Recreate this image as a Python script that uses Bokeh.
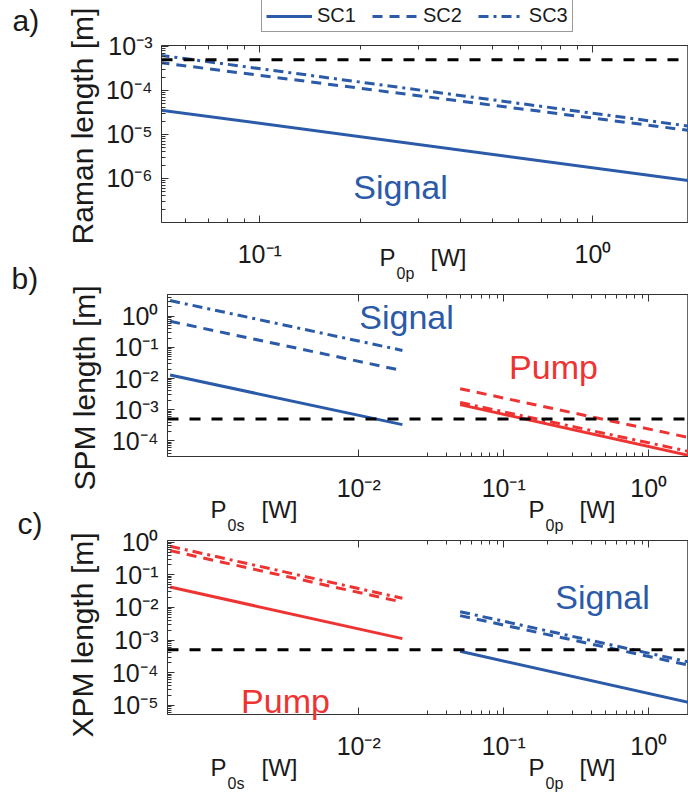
import math
from bokeh.plotting import figure
from bokeh.models import (FixedTicker, CustomJSTickFormatter, LogAxis, Label,
                          Legend, LegendItem, Span, Range1d)
from bokeh.layouts import column
from bokeh.embed import file_html
from bokeh.resources import INLINE

# ------------------------------------------------------------------ data
series_names = ["SC1", "SC2", "SC3"]
pump_power = [0.05, 2.0]        # P0p [W]
signal_power = [5e-4, 0.02]     # P0s [W]
ref_length = 5e-4               # dashed reference length [m]

# a) Raman length (signal) vs P0p
raman_sc1 = [3.6e-5, 8.7e-7]
raman_sc2 = [4.3e-4, 1.2e-5]
raman_sc3 = [6.3e-4, 1.5e-5]

# b) SPM length: signal vs P0s, pump vs P0p
spm_signal_sc1 = [1.3e-2, 3.3e-4]
spm_signal_sc2 = [0.69, 0.018]
spm_signal_sc3 = [3.2, 0.08]
spm_pump_sc1 = [1.45e-3, 3.2e-5]
spm_pump_sc2 = [4.7e-3, 1.2e-4]
spm_pump_sc3 = [1.7e-3, 4.3e-5]

# c) XPM length: pump vs P0s, signal vs P0p
xpm_pump_sc1 = [0.042, 1.1e-3]
xpm_pump_sc2 = [0.55, 0.0145]
xpm_pump_sc3 = [0.75, 0.019]
xpm_signal_sc1 = [4.5e-4, 1.15e-5]
xpm_signal_sc2 = [5.6e-3, 1.6e-4]
xpm_signal_sc3 = [7.4e-3, 2.0e-4]

ticks_a_x = [0.1, 1.0]
ticks_a_y = [1e-6, 1e-5, 1e-4, 1e-3]
ticks_bc_x = [0.01, 0.1, 1.0]
ticks_b_y = [1e-4, 1e-3, 1e-2, 1e-1, 1.0]
ticks_c_y = [1e-5, 1e-4, 1e-3, 1e-2, 1e-1, 1.0]

# ------------------------------------------------------------------ style
BLUE = "#2a5aa8"
RED = "#ee3333"
FONT = "Liberation Sans"
TXT = "#1a1a1a"
DASH = {"SC1": "solid", "SC2": "10 7", "SC3": "10 5 3 5"}

FMT = CustomJSTickFormatter(code=r"""
const e = Math.round(Math.log10(tick));
const m = {"-":"\u207b","0":"\u2070","1":"\u00b9","2":"\u00b2","3":"\u00b3",
           "4":"\u2074","5":"\u2075","6":"\u2076","7":"\u2077","8":"\u2078","9":"\u2079"};
let s = "";
for (const c of String(e)) { s += m[c]; }
return "10" + s;
""")
EMPTY = CustomJSTickFormatter(code='return "";')


def minor_list(lo_exp, hi_exp, lo=None, hi=None):
    out = []
    for e in range(lo_exp, hi_exp + 1):
        for k in range(2, 10):
            v = k * 10.0 ** e
            if (lo is None or v >= lo) and (hi is None or v <= hi):
                out.append(v)
    return out


def style_axis(ax, ticker, labels=True):
    ax.ticker = ticker
    ax.formatter = FMT if labels else EMPTY
    ax.major_label_text_font = FONT
    ax.major_label_text_font_size = "25px" if labels else "1px"
    ax.major_label_text_color = TXT
    ax.major_tick_in = 7
    ax.major_tick_out = 0
    ax.minor_tick_in = 4
    ax.minor_tick_out = 0
    ax.axis_line_color = "#333333"
    ax.major_tick_line_color = "#333333"
    ax.minor_tick_line_color = "#333333"
    if not labels:
        ax.major_label_standoff = 0


def make_fig(geo, canvas_top, height, margin_top):
    xr = Range1d(10 ** geo["xl0"], 10 ** geo["xl1"])
    yr = Range1d(10 ** geo["yl0"], 10 ** geo["yl1"])
    p = figure(width=688, height=height, x_axis_type="log", y_axis_type="log",
               x_range=xr, y_range=yr, output_backend="svg",
               toolbar_location=None, tools="",
               min_border_left=geo["left"], min_border_right=688 - geo["right"],
               min_border_top=geo["top"] - canvas_top,
               min_border_bottom=canvas_top + height - geo["bottom"],
               border_fill_color=None, background_fill_color=None,
               outline_line_color="#666666", margin=(margin_top, 0, 0, 0),
               frame_align=False)
    p.grid.visible = False
    return p


def ref_line(p):
    p.add_layout(Span(location=ref_length, dimension="width", line_color="black",
                      line_width=3, line_dash="11 11"))


# ------------------------------------------------------------------ panel a
geo_a = dict(left=161, right=688, top=45, bottom=222,
             xl0=-1.295, xl1=0.287, yl0=-7.0, yl1=-2.98)
pa = make_fig(geo_a, 0, 300, 0)
style_axis(pa.xaxis[0], FixedTicker(ticks=ticks_a_x, minor_ticks=minor_list(-2, 0, 0.05, 2)))
style_axis(pa.yaxis[0], FixedTicker(ticks=ticks_a_y, minor_ticks=minor_list(-7, -4)))
pa.xaxis[0].major_label_standoff = 17
pa.yaxis[0].major_label_standoff = 9
top_a = LogAxis()
style_axis(top_a, FixedTicker(ticks=ticks_a_x, minor_ticks=minor_list(-2, 0, 0.05, 2)), labels=False)
pa.add_layout(top_a, "above")

ref_line(pa)
raman_series = [raman_sc1, raman_sc2, raman_sc3]
for name, vals in zip(series_names, raman_series):
    pa.line(pump_power, vals, line_color=BLUE, line_width=3, line_dash=DASH[name])

# ------------------------------------------------------------------ panel b
geo_b = dict(left=167, right=688, top=294, bottom=456,
             xl0=-3.319, xl1=0.274, yl0=-4.505, yl1=0.70)
pb = make_fig(geo_b, 260, 280, -40)
bc_minor = minor_list(-2, 0, 0.03, 2)
style_axis(pb.xaxis[0], FixedTicker(ticks=ticks_bc_x, minor_ticks=bc_minor))
style_axis(pb.yaxis[0], FixedTicker(ticks=ticks_b_y, minor_ticks=minor_list(-5, 0)))
pb.xaxis[0].major_label_standoff = 17
pb.yaxis[0].major_label_standoff = 9
top_b = LogAxis()
style_axis(top_b, FixedTicker(ticks=ticks_bc_x, minor_ticks=bc_minor), labels=False)
pb.add_layout(top_b, "above")

ref_line(pb)
for name, vals in zip(series_names, [spm_signal_sc1, spm_signal_sc2, spm_signal_sc3]):
    pb.line(signal_power, vals, line_color=BLUE, line_width=3, line_dash=DASH[name])
for name, vals in zip(series_names, [spm_pump_sc1, spm_pump_sc2, spm_pump_sc3]):
    pb.line(pump_power, vals, line_color=RED, line_width=3, line_dash=DASH[name])

# ------------------------------------------------------------------ panel c
geo_c = dict(left=167, right=688, top=540, bottom=714,
             xl0=-3.319, xl1=0.274, yl0=-5.285, yl1=0.052)
pc = make_fig(geo_c, 495, 297, -45)
style_axis(pc.xaxis[0], FixedTicker(ticks=ticks_bc_x, minor_ticks=bc_minor))
style_axis(pc.yaxis[0], FixedTicker(ticks=ticks_c_y, minor_ticks=minor_list(-6, 0)))
pc.xaxis[0].major_label_standoff = 17
pc.yaxis[0].major_label_standoff = 9
top_c = LogAxis()
style_axis(top_c, FixedTicker(ticks=ticks_bc_x, minor_ticks=bc_minor), labels=False)
pc.add_layout(top_c, "above")

ref_line(pc)
for name, vals in zip(series_names, [xpm_pump_sc1, xpm_pump_sc2, xpm_pump_sc3]):
    pc.line(signal_power, vals, line_color=RED, line_width=3, line_dash=DASH[name])
for name, vals in zip(series_names, [xpm_signal_sc1, xpm_signal_sc2, xpm_signal_sc3]):
    pc.line(pump_power, vals, line_color=BLUE, line_width=3, line_dash=DASH[name])

# ------------------------------------------------------------------ text overlay (page pixel space)
ov = figure(width=688, height=792, x_range=Range1d(0, 688), y_range=Range1d(792, 0),
            output_backend="svg", toolbar_location=None, tools="",
            x_axis_location=None, y_axis_location=None,
            min_border_left=0, min_border_right=0, min_border_top=0, min_border_bottom=0,
            border_fill_color=None, background_fill_color=None, outline_line_color=None,
            margin=(-792, 0, 0, 0), frame_align=False)
ov.grid.visible = False
# legend samples: the Raman series again, on a range where they fall outside the view
ov.extra_x_ranges = {"legend_x": Range1d(10 ** geo_a["xl0"], 10 ** geo_a["xl1"])}
ov.extra_y_ranges = {"legend_y": Range1d(10.0, 20.0)}
leg_r = [ov.line(pump_power, vals, line_color=BLUE, line_width=3, line_dash=DASH[n],
                 x_range_name="legend_x", y_range_name="legend_y")
         for n, vals in zip(series_names, raman_series)]
legend = Legend(items=[LegendItem(label=n, renderers=[r]) for n, r in zip(series_names, leg_r)],
                orientation="horizontal", location=(261, 760),
                label_text_font=FONT, label_text_font_size="20px", label_text_color=TXT,
                glyph_width=46, glyph_height=20, label_standoff=5, spacing=16,
                padding=4, margin=0, border_line_color="#333333", border_line_width=1,
                background_fill_color="white", background_fill_alpha=1.0)
ov.add_layout(legend, "center")


def text(px, py, s, size, color=TXT, align="left", angle=0.0):
    fs = float(size.replace("px", ""))
    if angle == 0.0:
        ov.add_layout(Label(x=px, y=py - 0.32 * fs, text=s, text_font=FONT, text_font_size=size,
                            text_color=color, text_align=align, text_baseline="alphabetic"))
    else:
        ov.add_layout(Label(x=px, y=py - 3, text=s, text_font=FONT, text_font_size=size,
                            text_color=color, text_align="center", text_baseline="middle",
                            angle=angle))


def xlabel(px, py, sub):
    text(px, py, "P", "24px")
    text(px + 17, py + 13, sub, "16px")
    text(px + 51, py, "[W]", "24px")


def ylabel(px, py, s):
    text(px, py, s, "30px", angle=math.pi / 2)


text(12, 30, "a)", "30px")
text(11, 288, "b)", "30px")
text(17, 533, "c)", "30px")

ylabel(82, 128.5, "Raman length [m]")
ylabel(84, 390.5, "SPM length [m]")
ylabel(82, 637.5, "XPM length [m]")

xlabel(379, 265, "0p")
xlabel(210, 517, "0s")
xlabel(528, 517, "0p")
xlabel(210, 775, "0s")
xlabel(528, 775, "0p")

text(400, 197, "Signal", "34px", color=BLUE, align="center")
text(406, 327, "Signal", "34px", color=BLUE, align="center")
text(553, 377, "Pump", "34px", color=RED, align="center")
text(285, 711, "Pump", "34px", color=RED, align="center")
text(602, 607, "Signal", "34px", color=BLUE, align="center")

layout = column(pa, pb, pc, ov, spacing=0)
open("out.html", "w").write(file_html(layout, INLINE))
